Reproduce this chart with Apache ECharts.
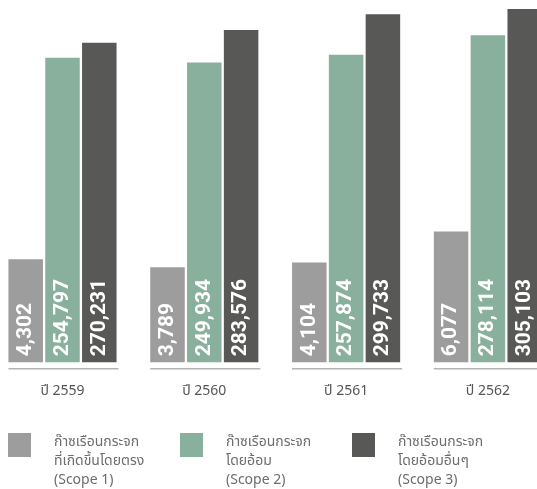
<!DOCTYPE html>
<html>
<head>
<meta charset="utf-8">
<style>
  html, body { margin: 0; padding: 0; background: #ffffff; }
  #chart { width: 537px; height: 489px; }
</style>
<script src="https://cdn.jsdelivr.net/npm/echarts@6/dist/echarts.min.js"></script>
</head>
<body>
<div id="chart"></div>
<script>
// Greenhouse gas emissions by year (tCO2e)
const years = ['ปี 2559', 'ปี 2560', 'ปี 2561', 'ปี 2562'];
const scope1 = [4302, 3789, 4104, 6077];
const scope2 = [254797, 249934, 257874, 278114];
const scope3 = [270231, 283576, 299733, 305103];
const seriesNames = [
  'ก๊าซเรือนกระจก\nที่เกิดขึ้นโดยตรง\n(Scope 1)',
  'ก๊าซเรือนกระจก\nโดยอ้อม\n(Scope 2)',
  'ก๊าซเรือนกระจก\nโดยอ้อมอื่นๆ\n(Scope 3)'
];
const colors = ['#9d9d9d', '#88b09c', '#585857'];

const FONT = "'Noto Sans', 'Noto Sans Thai', 'Roboto', sans-serif";
const BAR_W = 34.5;

// two hidden value scales: one for the large indirect scopes, one for scope 1
const mainMin = -60400, mainMax = 314500;
const s1Min = -2261, s1Max = 20830;

const fmt = v => Number(v).toLocaleString('en-US');

const valueLabel = {
  show: true,
  position: 'insideBottom',
  rotate: 90,
  align: 'left',
  verticalAlign: 'middle',
  distance: 6,
  color: '#ffffff',
  fontFamily: 'Roboto, sans-serif',
  fontWeight: 'bold',
  fontSize: 21,
  formatter: p => fmt(p.value)
};

function legendFor(i, left) {
  return {
    left: left,
    top: 400.5,
    padding: 0,
    orient: 'vertical',
    itemWidth: 23,
    itemHeight: 24,
    icon: 'rect',
    selectedMode: false,
    data: [seriesNames[i]],
    // a short spacer line pushes the three text lines below the swatch centre
    formatter: name => '{gap| }\n' + name,
    textStyle: {
      fontFamily: FONT,
      fontSize: 14,
      lineHeight: 19,
      color: '#6d6d6d',
      padding: [0, 0, 0, 18],
      rich: {
        gap: { fontSize: 1, lineHeight: 32 }
      }
    }
  };
}

const chart = echarts.init(document.getElementById('chart'), null, { renderer: 'canvas' });

chart.setOption({
  animation: false,
  backgroundColor: '#ffffff',
  color: colors,
  grid: {
    left: -8.4, width: 567.2, top: 0, bottom: 126.7,
    containLabel: false, outerBoundsMode: 'none'
  },
  legend: [legendFor(0, 8), legendFor(1, 180), legendFor(2, 352)],
  xAxis: {
    type: 'category',
    data: years,
    axisLine: { show: false },
    axisTick: { show: false },
    axisLabel: {
      margin: 22,
      fontFamily: FONT,
      fontSize: 14,
      color: '#555555'
    }
  },
  yAxis: [
    { type: 'value', show: false, min: mainMin, max: mainMax, startValue: mainMin, splitLine: { show: false } },
    { type: 'value', show: false, min: s1Min, max: s1Max, startValue: s1Min, splitLine: { show: false } }
  ],
  series: [
    {
      name: seriesNames[0], type: 'bar', yAxisIndex: 1, data: scope1,
      barWidth: BAR_W, barGap: '6.7%',
      itemStyle: { color: colors[0] }, label: valueLabel
    },
    {
      name: seriesNames[1], type: 'bar', yAxisIndex: 0, data: scope2,
      barWidth: BAR_W, barGap: '6.7%',
      itemStyle: { color: colors[1] }, label: valueLabel
    },
    {
      name: seriesNames[2], type: 'bar', yAxisIndex: 0, data: scope3,
      barWidth: BAR_W, barGap: '6.7%',
      itemStyle: { color: colors[2] }, label: valueLabel
    },
    {
      // thin rule under each year's group of bars
      type: 'custom',
      yAxisIndex: 0,
      silent: true,
      clip: false,
      data: years.map((_, i) => [i]),
      renderItem: (params, api) => {
        const c = api.coord([api.value(0), mainMin]);
        const half = (BAR_W * 3 + BAR_W * 0.067 * 2) / 2;
        return {
          type: 'line',
          shape: { x1: c[0] - half, y1: c[1] + 6.5, x2: c[0] + half + 2, y2: c[1] + 6.5 },
          style: { stroke: '#b3b3b3', lineWidth: 1.5 }
        };
      }
    }
  ]
});
</script>
</body>
</html>
